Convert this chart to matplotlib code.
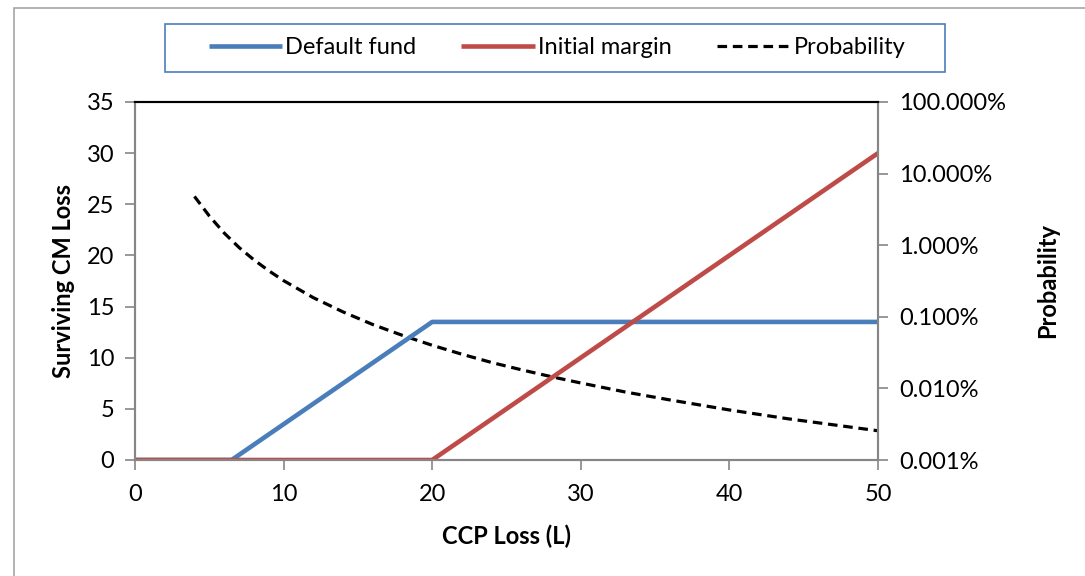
import matplotlib
matplotlib.use("Agg")
import matplotlib.pyplot as plt
from matplotlib.patches import Rectangle
from matplotlib.ticker import FixedLocator, FixedFormatter

plt.rcParams['font.family'] = ['Lato', 'DejaVu Sans']

# data
loss_df = [0, 6.5, 20, 50]
default_fund = [0, 0, 13.5, 13.5]
loss_im = [0, 20, 50]
initial_margin = [0, 0, 30]
loss_p = [4, 5, 6, 7, 8, 9, 10, 12, 14, 16, 18, 20, 22, 24, 26, 28, 30, 33, 36, 40, 44, 47, 50]
probability = [4.8e-2, 2.56e-2, 1.48e-2, 9.3e-3, 6.25e-3, 4.4e-3, 3.2e-3, 1.85e-3, 1.17e-3,
               7.8e-4, 5.5e-4, 4.0e-4, 3.0e-4, 2.3e-4, 1.82e-4, 1.46e-4, 1.19e-4, 8.9e-5,
               6.9e-5, 5.0e-5, 3.75e-5, 3.1e-5, 2.56e-5]

blue = '#4a7ebb'
red = '#be4b48'
gray = '#868686'
W, H = 1085, 576

fig = plt.figure(figsize=(10.85, 5.76), dpi=100)
# outer chart border and legend box
fig.patches.append(Rectangle((14 / W, -0.1), 1.2, 1 - 8 / H + 0.1, transform=fig.transFigure,
                             fill=False, edgecolor='#a6a6a6', linewidth=1.2))
fig.patches.append(Rectangle((165 / W, 1 - 72 / H), 780 / W, 48 / H, transform=fig.transFigure,
                             fill=False, edgecolor=blue, linewidth=1.2))

ax = fig.add_axes([135 / W, 1 - 460 / H, 743 / W, 358 / H])
ax2 = ax.twinx()
ax.set_zorder(ax2.get_zorder() + 1)
ax.patch.set_visible(False)

l1, = ax.plot(loss_df, default_fund, color=blue, lw=3.3, solid_capstyle='butt', label='Default fund')
l2, = ax.plot(loss_im, initial_margin, color=red, lw=3.3, solid_capstyle='butt', label='Initial margin')
l3, = ax2.plot(loss_p, probability, color='black', lw=2.3, ls=(0, (3, 1.8)), label='Probability')

ax.set_xlim(0, 50)
ax.set_ylim(0, 35)
ax.set_xticks(range(0, 51, 10))
ax.set_yticks(range(0, 36, 5))
ax2.set_yscale('log')
ax2.set_ylim(1e-5, 1)
ax2.yaxis.set_major_locator(FixedLocator([1e-5, 1e-4, 1e-3, 1e-2, 1e-1, 1]))
ax2.yaxis.set_major_formatter(FixedFormatter(['0.001%', '0.010%', '0.100%', '1.000%', '10.000%', '100.000%']))
ax2.yaxis.set_minor_locator(FixedLocator([]))

for a in (ax, ax2):
    for s in ('left', 'right', 'bottom'):
        a.spines[s].set_color(gray)
        a.spines[s].set_linewidth(1.5)
    a.spines['top'].set_color('black')
    a.spines['top'].set_linewidth(1.5)
    a.tick_params(colors=gray, labelcolor='black', labelsize=17, length=7, width=1.2,
                  direction='out', pad=8)
ax.tick_params(axis='x', pad=10)

ax.set_xlabel('CCP Loss (L)', fontsize=17, fontweight='bold', labelpad=14)
ax.set_ylabel('Surviving CM Loss', fontsize=17, fontweight='bold', labelpad=8)
ax2.set_ylabel('Probability', fontsize=17, fontweight='bold', labelpad=22)

leg = fig.legend(handles=[l1, l2, l3], loc='center', bbox_to_anchor=(557 / W, 1 - 48 / H),
                 ncol=3, fontsize=17, frameon=False, handlelength=3.1,
                 handletextpad=0.15, columnspacing=1.9, borderaxespad=0)

fig.savefig('out.png', dpi=100)
